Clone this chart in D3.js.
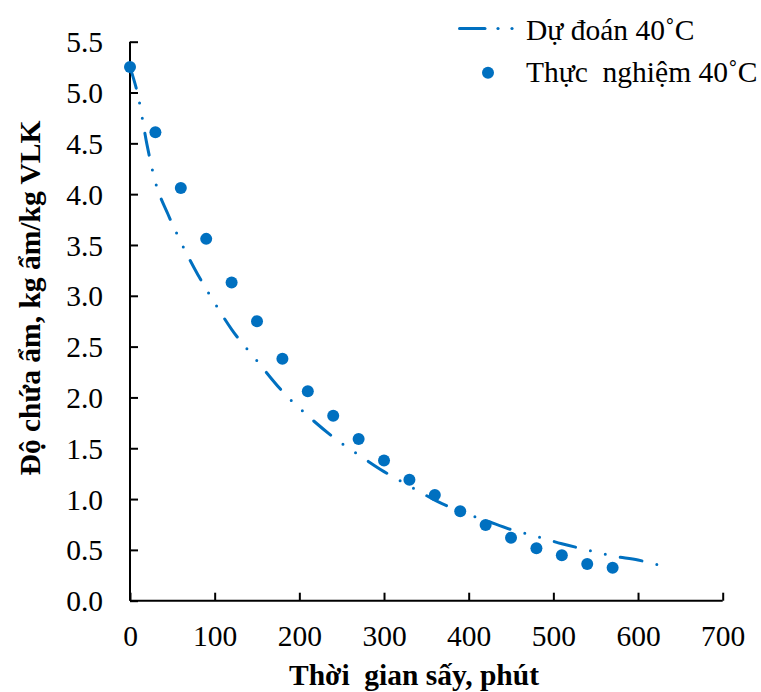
<!DOCTYPE html>
<html><head><meta charset="utf-8">
<script src="https://cdn.jsdelivr.net/npm/d3@7"></script>
<style>
body{margin:0;background:#fff;}
text{font-family:"Liberation Serif","Times New Roman",serif;fill:#000;}
</style></head><body>
<svg id="c" width="761" height="692"></svg>
<script>
// Experimental data (time, moisture)
const expTime = [0,30,60,90,120,150,180,210,240,270,300,330,360,390,420,450,480,510,540,570];
const expMoist = [5.25,4.61,4.06,3.56,3.13,2.75,2.38,2.06,1.82,1.59,1.38,1.19,1.04,0.88,0.745,0.62,0.516,0.447,0.361,0.325];
// Predicted curve
const predTime = [0,10,20,30,45,60,80,100,120,150,180,210,240,270,300,330,360,390,420,450,480,510,540,570,600,630];
const predMoist = [5.25,4.95,4.49,4.12,3.80,3.53,3.21,2.93,2.67,2.36,2.06,1.82,1.61,1.435,1.27,1.13,0.99,0.877,0.79,0.70,0.633,0.56,0.50,0.44,0.40,0.34];
const xTicks = [0,100,200,300,400,500,600,700];
const yTicks = [0,0.5,1,1.5,2,2.5,3,3.5,4,4.5,5,5.5];
const legendLabels = ["Dự đoán 40˚C","Thực  nghiệm 40˚C"];
const xTitle = "Thời  gian sấy, phút";
const yTitle = "Độ chứa ẩm, kg ẩm/kg VLK";
const color = "#0070C0";

const svg = d3.select("#c");
const x = d3.scaleLinear().domain([0,700]).range([130,722.7]);
const y = d3.scaleLinear().domain([0,5.5]).range([600.7,41.7]);
const fs = 29.5;

// axes
const xa = svg.append("g").attr("transform",`translate(0,${y(0)})`)
  .call(d3.axisBottom(x).tickValues(xTicks).tickSizeInner(-8).tickSizeOuter(0).tickPadding(24).tickFormat(d3.format("d")));
const ya = svg.append("g").attr("transform",`translate(${x(0)},0)`)
  .call(d3.axisLeft(y).tickValues(yTicks).tickSizeInner(-8).tickSizeOuter(0).tickPadding(27).tickFormat(d3.format(".1f")));
[xa,ya].forEach(a=>{
  a.selectAll("path,line").attr("stroke","#000").attr("stroke-width",2);
  a.selectAll("text").style("font-size",fs+"px").style("font-family",'"Liberation Serif",serif').attr("fill","#000");
});
xa.select(".domain").attr("d",`M${x(0)},0H${x(700)}`);
ya.select(".domain").attr("d",`M0,${y(0)}V${y(5.5)}`);
ya.selectAll("text").attr("dy","0.34em");
xa.selectAll("text").attr("dy","0.71em");

// predicted line
const line = d3.line().x((d,i)=>x(predTime[i])).y((d,i)=>y(predMoist[i])).curve(d3.curveMonotoneX);
const dash = "22 15.3 0 15.3 0 15.3";
svg.append("path").datum(predMoist).attr("d",line).attr("fill","none")
  .attr("stroke",color).attr("stroke-width",3).attr("stroke-linecap","round")
  .attr("stroke-dasharray",dash);

// points
svg.append("g").selectAll("circle").data(expTime).join("circle")
  .attr("cx",d=>x(d)).attr("cy",(d,i)=>y(expMoist[i])).attr("r",6).attr("fill",color);

// legend
svg.append("path").attr("d","M459.5,28.5H485").attr("stroke",color).attr("stroke-width",3).attr("stroke-linecap","round");
[498,512].forEach(cx=>svg.append("circle").attr("cx",cx).attr("cy",28.5).attr("r",1.6).attr("fill",color));
svg.append("circle").attr("cx",488).attr("cy",72.7).attr("r",6).attr("fill",color);
svg.append("text").attr("x",526).attr("y",39.5).style("font-size",fs+"px").style("white-space","pre").text(legendLabels[0]);
svg.append("text").attr("x",526).attr("y",81.7).style("font-size",fs+"px").style("white-space","pre").text(legendLabels[1]);

// titles
svg.append("text").attr("x",414).attr("y",685).attr("text-anchor","middle")
  .style("font-size",fs+"px").style("font-weight","bold").style("white-space","pre").text(xTitle);
svg.append("text").attr("transform",`translate(40,298) rotate(-90)`).attr("text-anchor","middle")
  .style("font-size",fs+"px").style("font-weight","bold").text(yTitle);
</script></body></html>
